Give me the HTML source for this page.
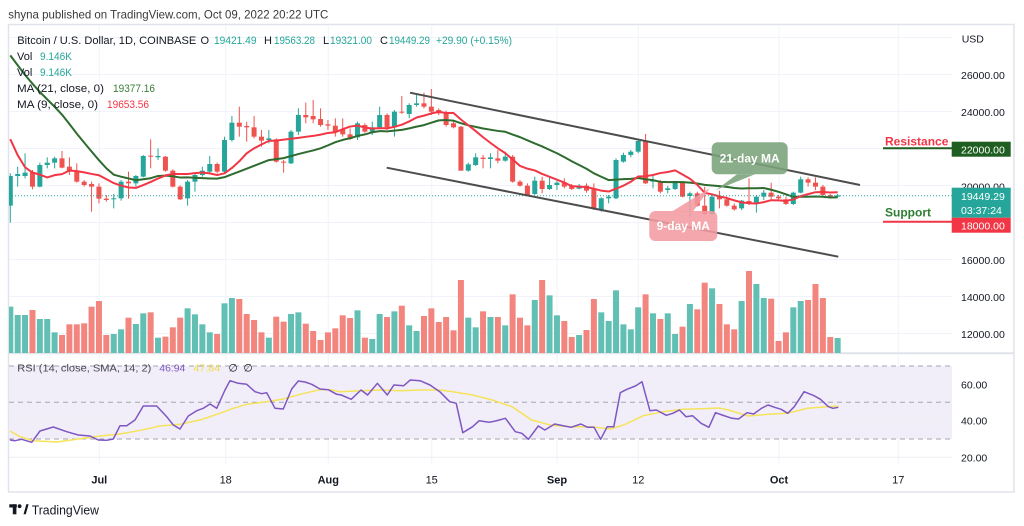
<!DOCTYPE html>
<html><head><meta charset="utf-8"><style>
html,body{margin:0;padding:0;background:#fff;width:1024px;height:526px;overflow:hidden}
svg{display:block;font-family:"Liberation Sans",Arial,sans-serif}
</style></head><body>
<svg id="s" width="1024" height="526" viewBox="0 0 1024 526" xmlns="http://www.w3.org/2000/svg">
<defs><clipPath id="pane"><rect x="9" y="25" width="943" height="328"/></clipPath>
<clipPath id="rsi"><rect x="9" y="354" width="943" height="110"/></clipPath></defs>
<rect x="0" y="0" width="1024" height="526" fill="#fff"/>
<text x="8.3" y="18.3" font-size="12" fill="#3a3a3a" textLength="320" lengthAdjust="spacingAndGlyphs">shyna published on TradingView.com, Oct 09, 2022 20:22 UTC</text>
<!-- frame -->
<rect x="8.5" y="24.5" width="1005.5" height="467.5" fill="none" stroke="#e0e3eb" stroke-width="1.5"/>
<!-- grid -->
<g stroke="#f0f3fa" stroke-width="1">
<line x1="9" x2="952" y1="37.5" y2="37.5"/><line x1="9" x2="952" y1="74.5" y2="74.5"/><line x1="9" x2="952" y1="111.5" y2="111.5"/><line x1="9" x2="952" y1="148.5" y2="148.5"/><line x1="9" x2="952" y1="185.5" y2="185.5"/><line x1="9" x2="952" y1="222.5" y2="222.5"/><line x1="9" x2="952" y1="259.5" y2="259.5"/><line x1="9" x2="952" y1="296.5" y2="296.5"/><line x1="9" x2="952" y1="333.5" y2="333.5"/>
<line x1="99.3" x2="99.3" y1="25" y2="464"/><line x1="225.7" x2="225.7" y1="25" y2="464"/><line x1="328.3" x2="328.3" y1="25" y2="464"/><line x1="431.7" x2="431.7" y1="25" y2="464"/><line x1="557" x2="557" y1="25" y2="464"/><line x1="638.3" x2="638.3" y1="25" y2="464"/><line x1="779" x2="779" y1="25" y2="464"/><line x1="898.3" x2="898.3" y1="25" y2="464"/>
</g>
<!-- RSI pane bg -->
<rect x="9" y="366" width="943" height="73" fill="#f2eef9"/>
<g stroke="#eceef3" stroke-width="1"><line x1="9" x2="952" y1="384" y2="384"/><line x1="9" x2="952" y1="420.7" y2="420.7"/><line x1="9" x2="952" y1="457.3" y2="457.3"/></g>
<g stroke="#a3a6af" stroke-width="1" stroke-dasharray="5,4"><line x1="9" x2="952" y1="366" y2="366"/><line x1="9" x2="952" y1="402.3" y2="402.3"/><line x1="9" x2="952" y1="439" y2="439"/></g>
<line x1="9" x2="1014" y1="353.3" y2="353.3" stroke="#e0e3eb" stroke-width="2"/>
<g id="vol" clip-path="url(#pane)"></g>
<g id="candles" clip-path="url(#pane)"></g>
<g id="ma" clip-path="url(#pane)"></g>
<line x1="9" x2="952" y1="195.7" y2="195.7" stroke="#26a69a" stroke-width="1" stroke-dasharray="1,2"/>
<g id="rsig" clip-path="url(#rsi)"></g>
<!-- trendlines -->
<line x1="410" y1="92.7" x2="860" y2="185" stroke="#4d4d4d" stroke-width="2"/>
<line x1="386.7" y1="167.7" x2="838.3" y2="256.7" stroke="#4d4d4d" stroke-width="2"/>
<!-- callouts -->
<g fill="#7aa27a" fill-opacity="0.88"><rect x="711.7" y="142.3" width="76" height="32" rx="6"/><polygon points="737,174.3 755,174.3 716,190"/></g>
<text x="749.7" y="162.3" font-size="12" font-weight="bold" fill="#fff" text-anchor="middle">21-day MA</text>
<g fill="#f39ba1" fill-opacity="0.88"><rect x="649.3" y="211" width="68" height="30" rx="6"/><polygon points="672,211.5 693,211.5 710,188"/></g>
<text x="683.3" y="230" font-size="12" font-weight="bold" fill="#fff" text-anchor="middle">9-day MA</text>
<!-- legend -->
<g font-size="11" fill="#131722">
<text x="17.3" y="44" textLength="179" lengthAdjust="spacingAndGlyphs">Bitcoin / U.S. Dollar, 1D, COINBASE</text>
<text x="200.5" y="44">O</text><text x="214" y="44" fill="#26a69a" textLength="42.5" lengthAdjust="spacingAndGlyphs">19421.49</text>
<text x="264" y="44">H</text><text x="274" y="44" fill="#26a69a" textLength="41" lengthAdjust="spacingAndGlyphs">19563.28</text>
<text x="323" y="44">L</text><text x="330" y="44" fill="#26a69a" textLength="42" lengthAdjust="spacingAndGlyphs">19321.00</text>
<text x="380" y="44">C</text><text x="389" y="44" fill="#26a69a" textLength="41" lengthAdjust="spacingAndGlyphs">19449.29</text>
<text x="436" y="44" fill="#26a69a" textLength="76" lengthAdjust="spacingAndGlyphs">+29.90 (+0.15%)</text>
<text x="17" y="60">Vol</text><text x="40" y="60" fill="#26a69a" textLength="32" lengthAdjust="spacingAndGlyphs">9.146K</text>
<text x="17" y="76">Vol</text><text x="40" y="76" fill="#26a69a" textLength="32" lengthAdjust="spacingAndGlyphs">9.146K</text>
<text x="17" y="92" textLength="87" lengthAdjust="spacingAndGlyphs">MA (21, close, 0)</text><text x="113" y="92" fill="#3a7d3a" textLength="42" lengthAdjust="spacingAndGlyphs">19377.16</text>
<text x="17" y="108" textLength="81" lengthAdjust="spacingAndGlyphs">MA (9, close, 0)</text><text x="107" y="108" fill="#f23645" textLength="42" lengthAdjust="spacingAndGlyphs">19653.56</text>
</g>
<g font-size="10.5" fill="#131722">
<text x="17.3" y="371.5" fill="#434651" textLength="134" lengthAdjust="spacingAndGlyphs">RSI (14, close, SMA, 14, 2)</text>
<text x="159.3" y="371.5" fill="#7e57c2" textLength="26" lengthAdjust="spacingAndGlyphs">46.94</text>
<text x="193.3" y="371.5" fill="#efdc4d" textLength="27" lengthAdjust="spacingAndGlyphs">47.84</text>
<text x="228.5" y="371.5">∅</text><text x="243.5" y="371.5">∅</text>
</g>
<!-- price axis -->
<g font-size="10.5" fill="#131722">
<text x="961.7" y="42.5">USD</text>
<text x="961" y="79">26000.00</text>
<text x="961" y="115.8">24000.00</text>
<text x="961" y="190.3">20000.00</text>
<text x="961" y="264">16000.00</text>
<text x="961" y="301">14000.00</text>
<text x="961" y="338">12000.00</text>
<text x="961" y="388.5">60.00</text>
<text x="961" y="424.5">40.00</text>
<text x="961" y="461.5">20.00</text>
</g>
<!-- resistance / support -->
<text x="885" y="145.5" font-size="12" font-weight="bold" fill="#f23645">Resistance</text>
<line x1="883" x2="952" y1="148.3" y2="148.3" stroke="#1e5e20" stroke-width="2"/>
<text x="885" y="216.5" font-size="12" font-weight="bold" fill="#2e7d32">Support</text>
<line x1="883" x2="952" y1="221.7" y2="221.7" stroke="#f23645" stroke-width="2"/>
<rect x="951.7" y="141.7" width="59" height="15" fill="#1e5e20"/>
<text x="961" y="153.5" font-size="10.5" fill="#fff">22000.00</text>
<rect x="951.7" y="187.7" width="59" height="30" fill="#26a69a"/>
<text x="961" y="200" font-size="10.5" fill="#fff">19449.29</text>
<text x="961" y="214" font-size="10.5" fill="#fff">03:37:24</text>
<rect x="951.7" y="217.7" width="59" height="15" fill="#f23645"/>
<text x="961" y="229.3" font-size="10.5" fill="#fff">18000.00</text>
<!-- time axis -->
<g font-size="11" fill="#131722" text-anchor="middle">
<text x="99.3" y="483.5" font-weight="bold">Jul</text>
<text x="225.7" y="483.5">18</text>
<text x="328.3" y="483.5" font-weight="bold">Aug</text>
<text x="431.7" y="483.5">15</text>
<text x="557" y="483.5" font-weight="bold">Sep</text>
<text x="638.3" y="483.5">12</text>
<text x="779" y="483.5" font-weight="bold">Oct</text>
<text x="898.3" y="483.5">17</text>
</g>
<!-- logo -->
<g fill="#131722"><rect x="9.3" y="504.3" width="7.5" height="3.2"/><rect x="12.8" y="504.3" width="3.6" height="10"/><circle cx="19.6" cy="506.2" r="1.9"/><polygon points="23.5,514.3 26.3,504.3 28.6,504.3 25.8,514.3"/></g>
<text x="31.7" y="514.5" font-size="12.5" fill="#131722" textLength="67.3" lengthAdjust="spacingAndGlyphs">TradingView</text>
</svg>
<script>
(function(){
var NS='http://www.w3.org/2000/svg';
function el(t,a,p){var e=document.createElementNS(NS,t);for(var k in a)e.setAttribute(k,a[k]);p.appendChild(e);return e;}
var C=[['t',408,497,400,548],['t',402,408,380,440],['t',398,408,340,415],['r',397,440,390,448],['t',375,440,368,442],['t',368,375,352,385],['t',355,368,350,385],['r',355,383,333,385],['r',380,395,352,405],['r',395,425,370,428],
['r',425,435,420,440],['r',432,440,425,515],['r',440,476,430,490],['r',476,480,465,485],['t',475,478,462,505],['t',425,475,420,482],['r',425,430,395,476],['t',408,430,405,440],['t',348,410,345,412],['r',347,350,298,385],
['t',348,352,325,360],['r',350,392,348,395],['r',392,440,388,442],['r',440,478,436,480],['t',425,475,420,497],['t',405,425,400,455],['t',392,405,380,410],['t',372,395,348,400],['r',372,395,368,400],['t',300,395,290,398],
['t',248,300,228,305],['r',248,260,200,290],['r',258,262,245,305],['r',262,290,228,295],['r',290,302,270,320],['t',295,300,270,310],['r',298,365,295,368],['r',365,368,360,398],['t',275,370,270,372],['t',225,275,205,285],
['r',225,232,188,250],['r',228,238,180,250],['r',237,255,205,260],['r',253,257,240,270],['r',257,275,235,290],['r',268,283,235,290],['r',283,297,265,300],['t',250,292,245,300],['r',255,275,250,278],['t',262,275,245,285],
['t',225,262,200,265],['r',225,262,220,270],['t',215,262,210,290],['r',215,218,168,222],['t',195,222,190,235],['t',190,195,160,200],['r',190,200,158,205],['r',200,215,147,225],['r',210,220,205,225],['r',218,255,212,260],
['r',250,262,240,265],['r',260,392,258,392],['t',373,392,368,395],['t',352,375,340,378],['r',353,357,345,385],['t',352,357,340,385],['r',355,362,330,370],['t',350,362,335,365],['r',350,425,345,428],['r',425,437,420,440],
['r',437,465,430,468],['t',422,462,410,465],['r',422,447,410,460],['t',435,447,410,450],['t',428,435,422,450],['r',428,440,415,445],['r',437,447,432,450],['t',437,446,432,448],['r',437,452,430,458],['r',447,507,430,510],
['t',475,510,472,515],['t',470,475,465,490],['t',360,475,355,477],['t',345,365,338,368],['t',335,345,330,352],['t',303,335,298,340],['r',303,430,282,432],['t',420,425,405,445],['r',425,455,420,460],['t',445,450,438,460],
['t',428,447,425,450],['r',428,470,425,472],['t',460,468,455,530],['r',460,497,455,500],['r',497,522,440,525],['t',470,522,465,525],['r',470,478,452,505],['r',478,497,470,500],['r',497,508,490,512],['t',482,505,480,510],
['r',483,492,415,495],['t',470,490,465,518],['t',458,470,450,480],['r',458,470,428,478],['r',470,475,465,478],['r',478,492,470,495],['t',458,492,455,495],['t',418,458,410,460],['r',418,428,412,440],['r',428,440,412,450],
['r',440,465,435,468],['r',465,470,462,475],['t',466,470,462,472]];
var VT=[800,825,825,810,837,837,877,885,853,853,850,800,783,885,882,868,833,852,820,817,893,890,862,833,805,823,853,877,882,790,774,777,822,840,877,893,830,845,822,817,851,873,900,877,865,826,834,811,893,897,822,831,814,797,856,873,828,805,846,831,871,720,833,862,814,831,831,856,763,833,856,780,720,766,826,843,891,885,870,777,817,843,751,853,868,802,763,820,837,820,882,860,792,808,728,745,792,853,868,783,693,732,774,776,903,877,802,783,780,732,774,891,894];
function X(i){return 10.3+7.387*i;}
function Y(v){return 40+v/3;}
var gV=document.getElementById('vol'),gC=document.getElementById('candles'),gM=document.getElementById('ma'),gR=document.getElementById('rsig');
var closes=[];
for(var i=0;i<C.length;i++){
 var d=C[i],x=X(i),up=d[0]==='t',col=up?'#26a69a':'#ef5350';
 var vt=Y(VT[i]);
 el('rect',{x:(x-3).toFixed(2),y:vt.toFixed(2),width:6,height:(353.3-vt).toFixed(2),fill:up?'#62bfb4':'#f3857f'},gV);
 el('line',{x1:x.toFixed(2),x2:x.toFixed(2),y1:Y(d[3]).toFixed(2),y2:Y(d[4]).toFixed(2),stroke:col,'stroke-width':1},gC);
 el('rect',{x:(x-2.5).toFixed(2),y:Y(d[1]).toFixed(2),width:5,height:Math.max(1,Y(d[2])-Y(d[1])).toFixed(2),fill:col},gC);
 closes.push(up?Y(d[1]):Y(d[2]));
}
var pre=[31790,31790,29800,30450,29700,29860,29900,31370,31130,30200,30110,29080,28400,26570,22490,22140,22580,20380,20450,19000].map(function(p){return 185.5-(p-20000)*0.0185;});
var all=pre.concat(closes);
function ma(n){var pts=[];for(var i=0;i<closes.length;i++){var idx=i+20,s=0;for(var k=idx-n+1;k<=idx;k++)s+=all[k];pts.push(X(i).toFixed(2)+','+(s/n).toFixed(2));}return pts.join(' ');}
el('polyline',{points:ma(21),fill:'none',stroke:'#2e6b2e','stroke-width':2,'stroke-linejoin':'round'},gM);
el('polyline',{points:ma(9),fill:'none',stroke:'#f23645','stroke-width':2,'stroke-linejoin':'round'},gM);
var RP=[[10,440],[15,440.7],[21.7,439.3],[31.7,442.3],[40,431],[53.3,427],[66.7,431.7],[78.3,435],[90,436],[98.3,440],[106.7,440.3],[113.3,439],[120,425.7],[126.7,425.7],[135,420],[143.3,406],[156.7,406],[166.7,416.7],[173.3,425],[180,429],[188.3,416],[196.7,410.7],[203.3,408.3],[210,404],[216.7,408.3],[225,390],[230,380.7],[238.3,383.3],[246.7,384.3],[255,391.7],[261.7,393.7],[266.7,392.7],[275,408.3],[283.3,409],[291.7,389],[298.3,381],[305,382],[311.7,384.3],[320,389],[328.3,389.7],[336.7,394.3],
[341.3,395],[351.2,399.3],[361,390],[367.6,395],[377.4,383.3],[387.3,395],[393.9,385],[403.7,385.7],[410.3,380],[420.1,380.7],[430,385],[439.8,391.7],[449.7,401.7],[456.2,403.3],[462.8,432.7],[472.6,426.7],[479.2,420.7],[489,422.3],[495.6,421],[505.4,418.3],[515.3,431.7],[521.9,433.3],[528.4,439.3],[538.3,426],[544.8,430],[554.7,424],[564.5,426],[571.1,427.3],[580.9,424],[587.5,427.3],[594.1,427.3],[600.6,439.3],[607.2,426.7],[613.8,426.7],[620.3,392.7],[626.9,389.3],[635.4,386],[642,381.7],[649.9,410.7],[656.4,410],[666.3,415.3],[672.8,413.3],[679.4,410],[686,416.7],[692.5,415.7],[701.1,423.3],[708.9,427.3],[715.5,412.7],[722.1,415],[731.9,418.3],[738.5,419],[747,412.7],[753.6,414],[761.5,408.3],[768,405],[774.6,407.3],[781.2,409.3],[787.7,413.3],[794.3,406.7],[804.1,391.7],[814,395.7],[820.5,399.3],[828.4,406.7],[833,408.3],[838.3,407.3]];
var RS=[[10,431],[20,436.7],[33.3,440.7],[56.7,442],[76.7,439.3],[100,436],[120,434],[143.3,429.7],[160,426],[180,424.3],[200,420],[220,413.3],[233.3,408.3],[246.7,404.3],[266.7,401.7],[283.3,399],[300,394.3],[320,389.7],[330,389.7],[340,391.7],[361,390.7],[380.7,390],[400.4,390.7],[420.1,390],[439.8,390],[452.9,391.7],[472.6,395],[492.3,400],[512,406.7],[531.7,420],[551.4,425.3],[571.1,426.7],[590.8,426.7],[610.5,429],[623.6,425],[643.3,415.7],[663,411.7],[682.7,409.3],[702.4,408.7],[718.8,408],[728.6,410],[748.3,416],[768,414.3],[787.7,413.3],[807.4,408.3],[827.1,406.7],[838.3,406]];
function pl(a){return a.map(function(p){return p[0]+','+p[1];}).join(' ');}
el('polyline',{points:pl(RS),fill:'none',stroke:'#f5e35a','stroke-width':1.5},gR);
el('polyline',{points:pl(RP),fill:'none',stroke:'#7e57c2','stroke-width':1.5,'stroke-linejoin':'round'},gR);
})();
</script>
</body></html>
